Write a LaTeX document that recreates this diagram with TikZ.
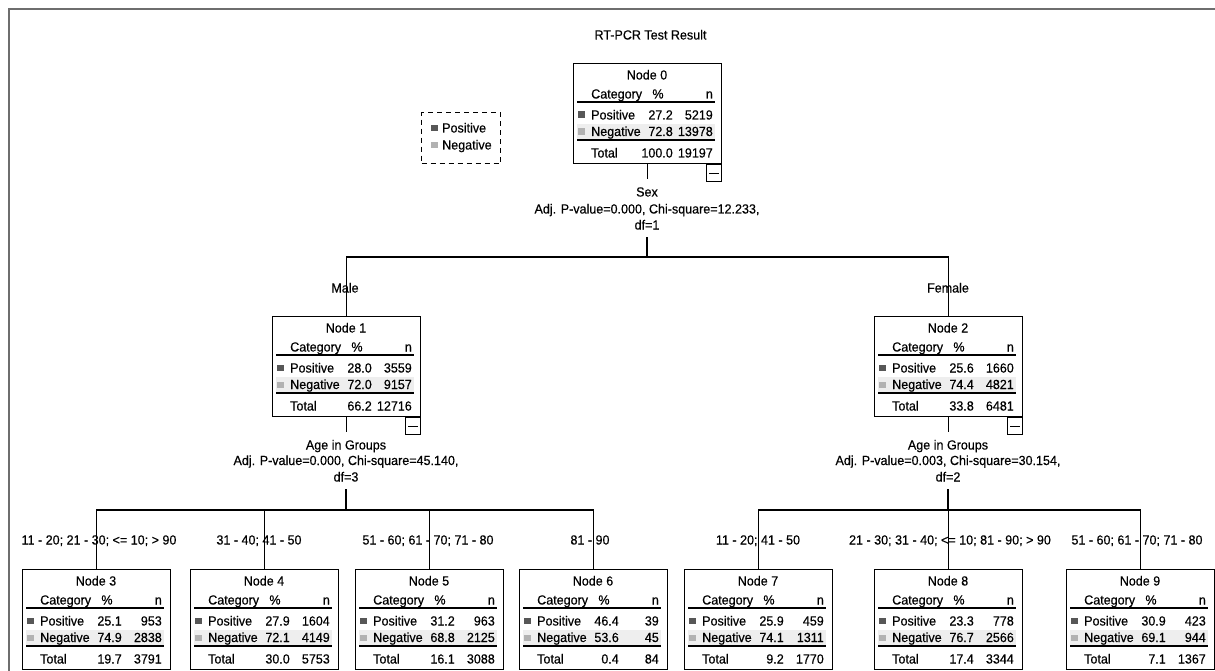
\documentclass[tikz,border=0pt]{standalone}
\usepackage{fontspec}
\setmainfont{Liberation Sans}[FakeStretch=0.95, FakeBold=0.4]
\usetikzlibrary{calc}
\definecolor{posc}{HTML}{575757}
\definecolor{negc}{HTML}{B2B2B2}
\definecolor{rowbg}{HTML}{EEEEEE}
\definecolor{framec}{HTML}{6E6E6E}
\newcommand\tfont{\fontsize{13.2}{15}\selectfont}
\tikzset{
  txt/.style={inner sep=0pt, font=\tfont, anchor=base},
  tbox/.style={draw, line width=1.2pt, minimum width=148pt, minimum height=100pt, inner sep=0pt, anchor=north west},
  cbox/.style={draw, line width=1.1pt, minimum width=15pt, minimum height=17pt, inner sep=0pt, anchor=north east},
  sepline/.style={line width=1.3pt},
  conn/.style={line width=1.1pt},
  framel/.style={draw=framec, line width=2pt},
  splitlab/.style={inner sep=0pt, font=\tfont, anchor=base, text height=9pt, text depth=3pt},
}
\newcommand\tnode[9]{%
  \node[tbox] (#1) at (#2) {};
  \fill[rowbg] ($(#1.north west)+(4,61)$) rectangle ($(#1.north west)+(142,76)$);
  \node[txt] (#1-t) at ($(#1.north west)+(74,16.5)$) {#3};
  \node[txt,anchor=base west] (#1-h1) at ($(#1.north west)+(18,35.5)$) {Category};
  \node[txt] (#1-h2) at ($(#1.north west)+(85,35.5)$) {\%};
  \node[txt,anchor=base east] (#1-h3) at ($(#1.north west)+(140,35.5)$) {n};
  \draw[sepline] ($(#1.north west)+(4,39)$) -- ++(138,0);
  \fill[posc] ($(#1.north west)+(5,48.5)$) rectangle ++(6.5,6.5);
  \node[txt,anchor=base west] (#1-p) at ($(#1.north west)+(18,56.5)$) {Positive};
  \node[txt,anchor=base east] (#1-pp) at ($(#1.north west)+(100,56.5)$) {#4};
  \node[txt,anchor=base east] (#1-pn) at ($(#1.north west)+(140,56.5)$) {#5};
  \fill[negc] ($(#1.north west)+(5,65.5)$) rectangle ++(6.5,6.5);
  \node[txt,anchor=base west] (#1-n) at ($(#1.north west)+(18,73)$) {Negative};
  \node[txt,anchor=base east] (#1-np) at ($(#1.north west)+(100,73)$) {#6};
  \node[txt,anchor=base east] (#1-nn) at ($(#1.north west)+(140,73)$) {#7};
  \draw[sepline] ($(#1.north west)+(4,77)$) -- ++(138,0);
  \node[txt,anchor=base west] (#1-s) at ($(#1.north west)+(18,94.5)$) {Total};
  \node[txt,anchor=base east] (#1-sp) at ($(#1.north west)+(100,94.5)$) {#8};
  \node[txt,anchor=base east] (#1-sn) at ($(#1.north west)+(140,94.5)$) {#9};
}
\newcommand\collapsebox[1]{%
  \node[cbox] (#1-c) at (#1.south east) {};
  \draw[line width=1.1pt] ($(#1-c.center)+(-5,0)$) -- ($(#1-c.center)+(5,0)$);
}
\begin{document}
\begin{tikzpicture}[x=1pt,y=-1pt]
\useasboundingbox (0,0) rectangle (1215,671);
\draw[framel] (1215,9) -- (9,9) -- (9,671);
% title
\node[txt] (title) at (650.5,39.5) {RT-PCR Test Result};
% legend
\node[draw, dashed, dash pattern=on 5pt off 4pt, line width=1.2pt, minimum width=79pt, minimum height=51pt, inner sep=0pt, anchor=north west] (leg) at (421,112) {};
\fill[posc] ($(leg.north west)+(10,13)$) rectangle ++(6.5,6.5);
\node[txt,anchor=base west] (leg-p) at ($(leg.north west)+(21,20.5)$) {Positive};
\fill[negc] ($(leg.north west)+(10,30)$) rectangle ++(6.5,6.5);
\node[txt,anchor=base west] (leg-n) at ($(leg.north west)+(21,37.5)$) {Negative};
% nodes
\tnode{n0}{573,63}{Node 0}{27.2}{5219}{72.8}{13978}{100.0}{19197}
\collapsebox{n0}
\tnode{n1}{272,316}{Node 1}{28.0}{3559}{72.0}{9157}{66.2}{12716}
\collapsebox{n1}
\tnode{n2}{874,316}{Node 2}{25.6}{1660}{74.4}{4821}{33.8}{6481}
\collapsebox{n2}
\tnode{n3}{22,569}{Node 3}{25.1}{953}{74.9}{2838}{19.7}{3791}
\tnode{n4}{190,569}{Node 4}{27.9}{1604}{72.1}{4149}{30.0}{5753}
\tnode{n5}{355,569}{Node 5}{31.2}{963}{68.8}{2125}{16.1}{3088}
\tnode{n6}{519,569}{Node 6}{46.4}{39}{53.6}{45}{0.4}{84}
\tnode{n7}{684,569}{Node 7}{25.9}{459}{74.1}{1311}{9.2}{1770}
\tnode{n8}{874,569}{Node 8}{23.3}{778}{76.7}{2566}{17.4}{3344}
\tnode{n9}{1066,569}{Node 9}{30.9}{423}{69.1}{944}{7.1}{1367}
% split labels
\node[splitlab] (s0a) at (647,196.5) {Sex};
\node[splitlab] (s0b) at (647,213.5) {Adj. P-value=0.000, Chi-square=12.233,};
\node[splitlab] (s0c) at (647,229.5) {df=1};
\node[splitlab] (s1a) at (346,449.5) {Age in Groups};
\node[splitlab] (s1b) at (346,465) {Adj. P-value=0.000, Chi-square=45.140,};
\node[splitlab] (s1c) at (346,481.5) {df=3};
\node[splitlab] (s2a) at (948,449.5) {Age in Groups};
\node[splitlab] (s2b) at (948,465) {Adj. P-value=0.003, Chi-square=30.154,};
\node[splitlab] (s2c) at (948,481.5) {df=2};
% junctions
\coordinate (j0) at (647,257);
\coordinate (j1) at (346,510);
\coordinate (j2) at (948,510);
% connectors
\draw[conn] (n0.south) -- ([yshift=8pt]n0.south |- s0a.north);
\draw[conn] ([yshift=-4.5pt]j0 |- s0c.south) -- (j0);
\draw[conn] (n1.north) |- (j0) -| (n2.north);
\draw[conn] (n1.south) -- ([yshift=8pt]n1.south |- s1a.north);
\draw[conn] ([yshift=-4.5pt]j1 |- s1c.south) -- (j1);
\draw[conn] (n3.north) |- (j1) -| (n6.north);
\draw[conn] (n4.north) -- (n4.north |- j1);
\draw[conn] (n5.north) -- (n5.north |- j1);
\draw[conn] (n2.south) -- ([yshift=8pt]n2.south |- s2a.north);
\draw[conn] ([yshift=-4.5pt]j2 |- s2c.south) -- (j2);
\draw[conn] (n7.north) |- (j2) -| (n9.north);
\draw[conn] (n8.north) -- (n8.north |- j2);
% edge labels
\node[txt] (e1) at (345,292.5) {Male};
\node[txt] (e2) at (948,292.5) {Female};
\node[txt] (e3) at (99,544.5) {11 - 20; 21 - 30; <= 10; > 90};
\node[txt] (e4) at (259,544.5) {31 - 40; 41 - 50};
\node[txt] (e5) at (428,544.5) {51 - 60; 61 - 70; 71 - 80};
\node[txt] (e6) at (590,544.5) {81 - 90};
\node[txt] (e7) at (758,544.5) {11 - 20; 41 - 50};
\node[txt] (e8) at (950,544.5) {21 - 30; 31 - 40; <= 10; 81 - 90; > 90};
\node[txt] (e9) at (1137,544.5) {51 - 60; 61 - 70; 71 - 80};
\end{tikzpicture}
\end{document}
